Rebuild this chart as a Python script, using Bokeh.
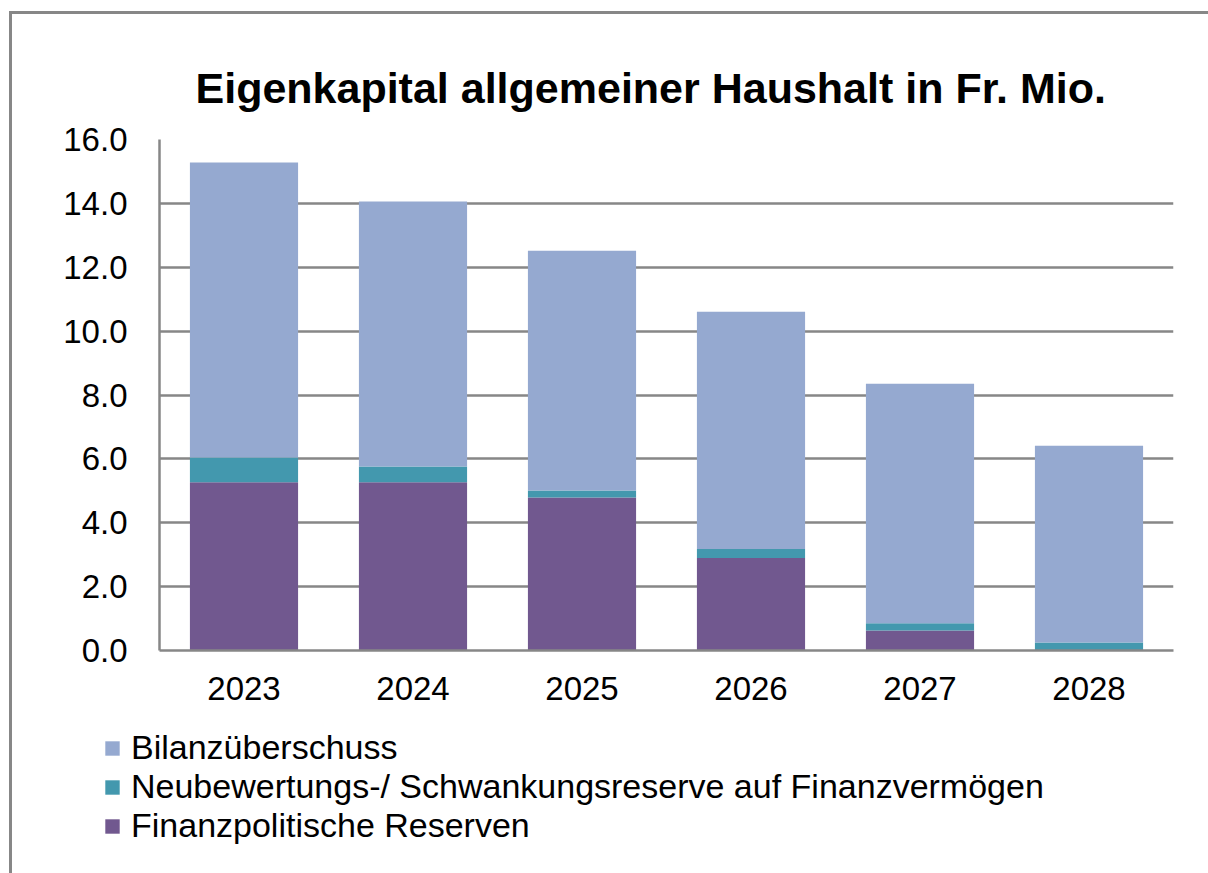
from bokeh.plotting import figure
from bokeh.layouts import column, row
from bokeh.models import FactorRange, Range1d, PrintfTickFormatter, Legend, LegendItem, FixedTicker
from bokeh.embed import file_html
from bokeh.resources import INLINE

years = ["2023", "2024", "2025", "2026", "2027", "2028"]
finanzpolitische = [5.27, 5.27, 4.79, 2.90, 0.63, 0.00]
neubewertung = [0.77, 0.49, 0.22, 0.28, 0.22, 0.25]
bilanz = [9.24, 8.30, 7.51, 7.43, 7.50, 6.16]
series_names = ["Finanzpolitische Reserven",
                "Neubewertungs-/ Schwankungsreserve auf Finanzvermögen",
                "Bilanzüberschuss"]
colors = ["#71588F", "#4398AE", "#95A9D0"]
y_ticks = [0, 2, 4, 6, 8, 10, 12, 14, 16]
title_text = "Eigenkapital allgemeiner Haushalt in Fr. Mio."

FONT = "Liberation Sans"
GRAY = "#878787"

W = 1196
H1, H2 = 701, 158
x_range = FactorRange(*years, range_padding=0)
p = figure(x_range=x_range, y_range=Range1d(0, 16),
           width=W, height=H1, output_backend="svg", toolbar_location=None,
           title=title_text,
           min_border_left=147, min_border_top=125, min_border_right=35, min_border_bottom=65)

p.title.text_font = FONT
p.title.text_font_size = "43px"
p.title.text_font_style = "bold"
p.title.text_color = "black"
p.title.align = "left"
p.title.offset = 36
p.title.standoff = 56

src = dict(years=years, f=finanzpolitische, n=neubewertung, b=bilanz)
rs = p.vbar_stack(["f", "n", "b"], x="years", width=0.64, source=src,
                  color=colors, line_color=None)

p.outline_line_color = None
p.background_fill_color = "white"
p.border_fill_color = "white"

p.xgrid.grid_line_color = None
p.ygrid.grid_line_color = GRAY
p.ygrid.grid_line_width = 2.5

p.yaxis.ticker = FixedTicker(ticks=y_ticks)
p.yaxis.formatter = PrintfTickFormatter(format="%.1f")
for ax in (p.xaxis, p.yaxis):
    ax.axis_line_color = GRAY
    ax.axis_line_width = 2.5
    ax.major_tick_line_color = None
    ax.minor_tick_line_color = None
    ax.major_label_text_font = FONT
    ax.major_label_text_font_size = "33px"
    ax.major_label_text_color = "black"
p.yaxis.major_label_standoff = 26
p.xaxis.major_label_standoff = 20

# legend panel: same stacked series, drawn out of view (y range above the data)
p2 = figure(width=W, height=H2, output_backend="svg", toolbar_location=None,
            min_border=0, x_range=FactorRange(*years, range_padding=0),
            y_range=Range1d(100, 101))
p2.axis.visible = False
p2.grid.visible = False
p2.outline_line_color = None
p2.border_fill_color = "white"
p2.background_fill_color = "white"
rs2 = p2.vbar_stack(["f", "n", "b"], x="years", width=0.64, source=src,
                    color=colors, line_color=None)
items = [LegendItem(label=series_names[i], renderers=[rs2[i]]) for i in (2, 1, 0)]
legend = Legend(items=items, location=(91, 28), orientation="vertical",
                label_text_font=FONT, label_text_font_size="34px",
                label_text_color="black",
                glyph_width=18, glyph_height=18, label_standoff=10,
                spacing=0, padding=2, margin=0, border_line_color=None,
                background_fill_alpha=0)
p2.add_layout(legend, "center")

layout = column(p, row(p2), spacing=0)
layout.styles = {"border-top": "3px solid " + GRAY, "border-left": "3px solid " + GRAY,
                 "margin-left": "9px", "margin-top": "11px"}

open("out.html", "w").write(file_html(layout, INLINE))
